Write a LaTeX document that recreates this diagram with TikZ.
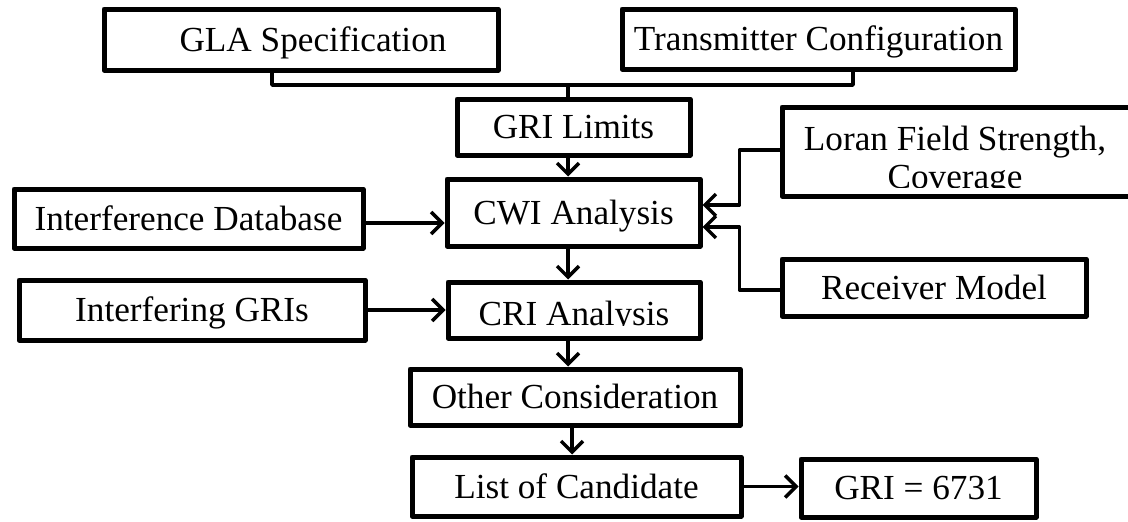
\documentclass[tikz,border=0pt]{standalone}
\usepackage{fontspec}
\setmainfont{Liberation Serif}
\usetikzlibrary{arrows.meta}
\tikzset{
  box/.style={draw, line width=5pt, line join=round, inner sep=0pt, font=\fontsize{35.2}{39}\selectfont, text height=23.2pt, text depth=0pt},
  txt/.style={inner sep=0pt, font=\fontsize{35.2}{39}\selectfont},
  conn/.style={line width=3.5pt, line join=round},
  arr/.style={conn, -{Straight Barb[length=11pt,width=22pt,line width=3.5pt]}}
}
\begin{document}
\begin{tikzpicture}[x=1pt,y=-1pt]
\useasboundingbox (0,0) rectangle (1128,522);
% boxes
\node[box, minimum width=394pt, minimum height=61pt] (gla) at (301,39.5) {\hspace*{24pt}GLA Specification};
\node[box, minimum width=393pt, minimum height=60pt] (tx) at (818.5,39) {Transmitter Configuration};
\node[box, minimum width=233pt, minimum height=56pt] (gri) at (573.5,127) {GRI Limits};
\node[box, minimum width=253pt, minimum height=67pt] (cwi) at (573.5,212.5) {CWI Analysis};
\node[box, minimum width=252pt, minimum height=56pt] (cri) at (574,310) {};
\node[box, minimum width=330pt, minimum height=56pt] (oth) at (575,397) {Other Consideration};
\node[box, minimum width=329pt, minimum height=59pt] (lst) at (576.5,486.5) {List of Candidate};
\node[box, minimum width=235pt, minimum height=58pt] (res) at (918.5,488) {GRI = 6731};
\node[box, minimum width=352pt, minimum height=89pt] (lor) at (958,151.5) {};
\node[box, minimum width=304pt, minimum height=57pt] (rcv) at (934,287.5) {Receiver Model};
\node[box, minimum width=349pt, minimum height=59pt] (idb) at (188.5,218.5) {Interference Database};
\node[box, minimum width=346pt, minimum height=60pt] (igr) at (192,310) {Interfering GRIs};
% clipped texts
\begin{scope}
\clip (450,282) rectangle (698,325.5);
\node[txt, anchor=base] (critxt) at (574,325) {CRI Analysis};
\end{scope}
\begin{scope}
\clip (784,108) rectangle (1128,187);
\node[txt, anchor=base] (lortxt) at (955,150) {Loran Field Strength,};
\node[txt, anchor=base] (covtxt) at (955,188) {Coverage};
\end{scope}
% connectors
\coordinate (j) at (568,85);
\draw[conn] (gla.south -| 272,0) |- (j);
\draw[conn] (tx.south -| 853,0) |- (j);
\draw[conn] (j) -- (gri.north -| j);
\draw[arr] (gri.south -| j) -- (cwi.north -| j);
\draw[arr] (cwi.south -| j) -- (cri.north -| j);
\draw[arr] (cri.south -| j) -- (oth.north -| j);
\draw[arr] (oth.south -| 572,0) -- (lst.north -| 572,0);
\draw[arr] (lst.east) -- (res.west |- lst.east);
\draw[arr] (idb.east |- 0,223) -- (cwi.west |- 0,223);
\draw[arr] (igr.east) -- (cri.west |- igr.east);
\draw[arr] (lor.west |- 0,150) -- ++(-40,0) |- (cwi.east |- 0,205);
\draw[arr] (rcv.west |- 0,290) -- ++(-40,0) |- (cwi.east |- 0,227);
\end{tikzpicture}
\end{document}
